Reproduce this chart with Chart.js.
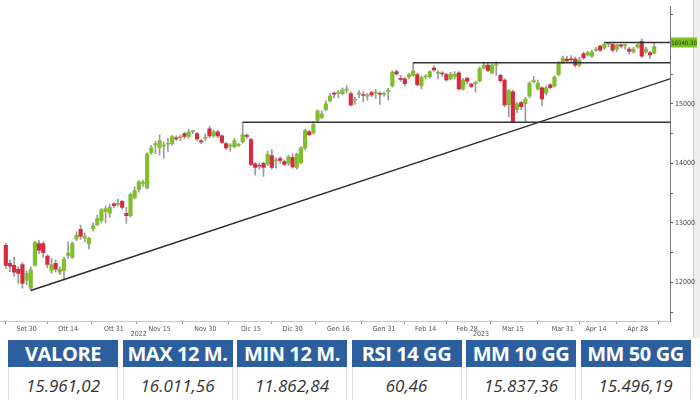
<!DOCTYPE html>
<html>
<head>
<meta charset="utf-8">
<script src="https://cdn.jsdelivr.net/npm/chart.js@4.4.0/dist/chart.umd.min.js"></script>
<style>
  html, body { margin: 0; padding: 0; background: #fff; }
  #wrap { position: relative; width: 700px; height: 400px; overflow: hidden; }
  #chartBox { position: absolute; left: 0; top: 0; width: 700px; height: 338px; }
  .cell { position: absolute; width: 110px; text-align: center; font-family: 'Open Sans', sans-serif; box-sizing: border-box; }
  .head { top: 340px; height: 27px; line-height: 28px; background: #2d5f9f; color: #fff; font-weight: 700; font-size: 20px; letter-spacing: -0.4px; }
  .val { top: 367px; height: 33px; line-height: 37px; color: #333; font-style: italic; font-size: 17px; border-left: 1px solid #e0e0e0; border-right: 1px solid #e0e0e0; }
</style>
</head>
<body>
<div id="wrap">
  <div id="chartBox"><canvas id="dax" width="700" height="338"></canvas></div>
  <div id="table"></div>
</div>
<script>
// candele giornaliere, dal 23 set 2022 al 5 mag 2023
const opens = [12620,12320,12285,12220,12300,12030,11900,12285,12650,12650,12440,12200,12320,12170,12200,12450,12420,12730,12890,12740,
  12650,12900,12970,13040,13190,13160,13320,13310,13360,13160,13120,13420,13560,13660,13590,14180,14310,14260,14290,14320,
  14330,14430,14430,14500,14450,14530,14500,14370,14420,14580,14460,14530,14460,14330,14290,14280,14300,14360,14470,14400,
  13990,13960,14000,13990,14130,14040,14080,14030,14000,14100,13930,14010,14260,14530,14510,14720,14770,14900,15050,15180,
  15170,15170,15230,15170,15060,15160,15150,15130,15190,15180,15175,15160,15210,15300,15540,15420,15420,15450,15480,15490,
  15300,15450,15450,15600,15510,15510,15490,15420,15460,15520,15250,15430,15330,15340,15380,15600,15650,15520,15650,15480,
  15400,14980,15200,14900,15020,15000,15130,15370,15250,15270,15180,15320,15300,15490,15690,15750,15750,15750,15650,15840,
  15820,15800,15900,15970,15940,16000,16000,15920,15990,15980,15920,15870,15950,16050,15870,15860,15850];
const highs = [12650,12380,12420,12260,12330,12190,12260,12690,12700,12680,12460,12400,12380,12260,12420,12680,12680,12850,12960,12830,
  12760,13000,13130,13240,13280,13310,13340,13400,13380,13260,13500,13610,13710,13720,14180,14300,14370,14480,14360,14420,
  14470,14460,14480,14520,14570,14560,14520,14400,14490,14620,14560,14560,14480,14350,14330,14420,14340,14690,14490,14420,
  14010,14010,14020,14200,14230,14090,14110,14060,14140,14160,14170,14280,14570,14560,14700,14900,14880,15050,15170,15200,
  15220,15270,15300,15200,15110,15220,15200,15170,15210,15240,15200,15200,15260,15560,15570,15480,15440,15510,15690,15510,
  15470,15490,15560,15640,15560,15540,15510,15530,15540,15540,15430,15450,15350,15380,15620,15680,15680,15670,15710,15500,
  15420,15240,15230,15020,15040,15110,15370,15460,15400,15290,15300,15340,15470,15710,15800,15800,15810,15780,15780,15870,
  15880,15900,15950,15990,16030,16025,16015,16000,16005,16005,15950,15950,16010,16090,15950,15880,16030];
const lows = [12230,12180,12100,11980,11900,11960,11863,12270,12480,12420,12240,12150,12170,12130,12040,12400,12400,12700,12720,12680,
  12560,12860,12950,13000,13000,13090,13250,13280,13230,12990,13100,13400,13510,13610,13570,14150,14160,14140,14080,14200,
  14300,14380,14380,14420,14420,14500,14380,14330,14380,14430,14440,14430,14330,14230,14200,14260,14280,14340,14420,13960,
  13800,13900,13780,13960,13900,13920,14000,13960,13960,13920,13900,13990,14230,14460,14490,14700,14750,14880,15030,15100,
  15100,15150,15180,14960,14990,15100,15030,15060,15120,15090,14990,15130,15060,15280,15480,15380,15300,15420,15460,15300,
  15250,15420,15430,15550,15420,15460,15380,15400,15420,15230,15230,15340,15270,15200,15370,15580,15540,15500,15480,15360,
  14950,14780,14690,14850,14900,14690,15100,15350,15230,14970,15150,15250,15280,15470,15670,15690,15700,15620,15620,15750,
  15800,15780,15880,15880,15920,15960,15870,15880,15940,15920,15840,15850,15930,15780,15850,15760,15840];
const closes = [12285,12270,12170,12150,11980,12150,12210,12670,12540,12500,12300,12300,12220,12220,12390,12490,12650,12790,12770,12770,
  12740,12950,13070,13220,13240,13260,13290,13325,13260,13120,13480,13540,13690,13680,14160,14260,14330,14380,14300,14330,
  14450,14410,14450,14450,14530,14540,14410,14360,14430,14460,14530,14460,14350,14260,14300,14380,14320,14480,14450,13980,
  13930,13950,13930,14150,13930,14050,14050,13980,14110,13940,14150,14260,14550,14480,14650,14880,14830,15000,15130,15160,
  15185,15235,15240,14980,15070,15170,15140,15140,15150,15190,15160,15170,15220,15530,15500,15410,15340,15490,15550,15320,
  15440,15460,15540,15570,15530,15500,15400,15500,15500,15250,15400,15380,15290,15350,15590,15650,15560,15650,15655,15390,
  14980,15220,14700,15000,14950,15080,15350,15390,15350,15080,15270,15270,15450,15690,15770,15720,15740,15650,15740,15770,
  15860,15870,15920,15900,16000,16010,15900,15990,15970,15985,15880,15920,15990,15800,15920,15820,15961];

// etichette asse x (indice della seduta)
const tickIdx = [5, 15, 26, 37, 48, 59, 69, 80, 91, 101, 111, 122, 134, 142, 152];
const tickText = ['Set 30', 'Ott 14', 'Ott 31', 'Nov 15', 'Nov 30', 'Dic 15', 'Dic 30', 'Gen 16', 'Gen 31', 'Feb 14', 'Feb 28', 'Mar 15', 'Mar 31', 'Apr 14', 'Apr 28'];
const yearIdx = [32, 114.3];
const yearText = ['2022', '2023'];

// asse y
const yTicks = [11500, 12000, 12500, 13000, 13500, 14000, 14500, 15000, 15500, 16000, 16500];
const yLabelled = [12000, 13000, 14000, 15000];

// supporti / resistenze e trendline
const levelStart = [57, 98, 144];
const levelValue = [14690, 15690, 16030];
const trendFrom = [6, 11863];
const trendTo = [159.8, 15419];
const tagText = '16040.30';

// tabella
const tableHead = ['VALORE', 'MAX 12 M.', 'MIN 12 M.', 'RSI 14 GG', 'MM 10 GG', 'MM 50 GG'];
const tableVal = ['15.961,02', '16.011,56', '11.862,84', '60,46', '15.837,36', '15.496,19'];

const GREEN = '#80bf2b';
const RED = '#d62a41';
const X_MIN = -1.4, X_MAX = 159.8;

const tbl = document.getElementById('table');
tableHead.forEach((h, i) => {
  const left = 8 + i * 114.5;
  const a = document.createElement('div');
  a.className = 'cell head';
  a.style.left = left + 'px';
  a.textContent = h;
  tbl.appendChild(a);
  const b = document.createElement('div');
  b.className = 'cell val';
  b.style.left = left + 'px';
  b.textContent = tableVal[i];
  tbl.appendChild(b);
});

const bodies = opens.map((o, i) => ({ x: i, y: [o, closes[i]] }));
const bodyColors = opens.map((o, i) => closes[i] >= o ? GREEN : RED);
const wicks = lows.map((l, i) => ({ x: i, y: [l, highs[i]] }));

const lineSets = levelValue.map((v, i) => ({
  type: 'line',
  data: [{ x: levelStart[i], y: v }, { x: X_MAX, y: v }],
  borderColor: '#333',
  borderWidth: 1.5,
  pointRadius: 0,
  order: 0
}));

const extras = {
  id: 'extras',
  beforeDraw(chart) {
    const c = chart.ctx;
    c.save();
    c.fillStyle = '#fff';
    c.fillRect(0, 0, chart.width, chart.height);
    c.fillStyle = '#eeeeee';
    c.fillRect(693, 0, 7, chart.height);
    c.fillStyle = '#cfcfcf';
    c.fillRect(693, 0, 1, chart.height);
    c.restore();
  },
  afterDraw(chart) {
    const c = chart.ctx;
    const xs = chart.scales.x, ys = chart.scales.y;
    c.save();
    c.font = '7px "Liberation Sans Narrow", "DejaVu Sans Condensed", sans-serif';
    c.fillStyle = '#555';
    c.textAlign = 'center';
    c.textBaseline = 'middle';
    yearIdx.forEach((v, i) => c.fillText(yearText[i], xs.getPixelForValue(v), 334));
    // etichetta verde dell'ultimo livello
    const ty = ys.getPixelForValue(levelValue[2]);
    c.fillStyle = '#7cc021';
    c.fillRect(671, ty - 5, 26, 10);
    c.fillStyle = '#2a3a10';
    c.font = '6px "Liberation Sans Narrow", "DejaVu Sans Condensed", sans-serif';
    c.fillText(tagText, 684, ty + 0.5);
    c.restore();
  }
};

new Chart(document.getElementById('dax'), {
  type: 'bar',
  data: {
    datasets: [
      ...lineSets,
      {
        type: 'line',
        data: [{ x: trendFrom[0], y: trendFrom[1] }, { x: trendTo[0], y: trendTo[1] }],
        borderColor: '#2a2a2a',
        borderWidth: 1.4,
        pointRadius: 0,
        order: 0
      },
      {
        data: bodies,
        backgroundColor: bodyColors,
        barThickness: 3.5,
        minBarLength: 1,
        grouped: false,
        order: 1
      },
      {
        data: wicks,
        backgroundColor: '#9a9a9a',
        barThickness: 1,
        grouped: false,
        order: 2
      }
    ]
  },
  options: {
    responsive: false,
    animation: false,
    layout: { padding: { top: 5, left: 0, right: 0, bottom: 0 } },
    plugins: { legend: { display: false }, tooltip: { enabled: false } },
    scales: {
      x: {
        type: 'linear',
        min: X_MIN,
        max: X_MAX,
        offset: false,
        afterBuildTicks: axis => { axis.ticks = tickIdx.map(v => ({ value: v })); },
        afterFit: axis => { axis.height = 17; },
        grid: { drawOnChartArea: false, tickLength: 3, color: '#999' },
        border: { color: '#c8c8c8' },
        ticks: {
          autoSkip: false,
          maxRotation: 0,
          padding: 1,
          color: '#555',
          font: { family: '"Liberation Sans Narrow", "DejaVu Sans Condensed", sans-serif', size: 7 },
          callback: v => tickText[tickIdx.indexOf(v)] || ''
        }
      },
      y: {
        position: 'right',
        min: 11350,
        max: 16640,
        afterBuildTicks: axis => { axis.ticks = yTicks.map(v => ({ value: v })); },
        afterFit: axis => { axis.width = 30; },
        grid: { drawOnChartArea: false, tickLength: 3, color: '#555' },
        border: { color: '#777' },
        ticks: {
          autoSkip: false,
          padding: 2,
          color: '#444',
          font: { family: '"Liberation Sans Narrow", "DejaVu Sans Condensed", sans-serif', size: 7 },
          callback: v => yLabelled.includes(v) ? String(v) : ''
        }
      }
    }
  },
  plugins: [extras]
});
</script>
</body>
</html>
